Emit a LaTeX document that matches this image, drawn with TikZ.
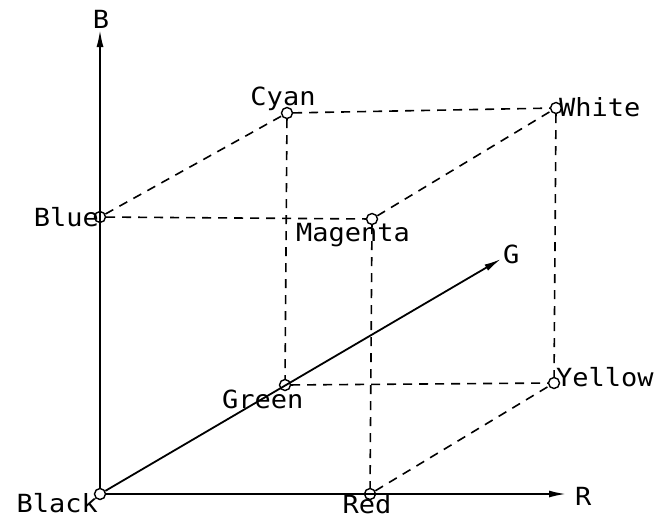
\documentclass[tikz,border=0pt]{standalone}
\usepackage{fontspec}
\setmainfont[FakeStretch=1.08]{DejaVu Sans Mono}
\usetikzlibrary{arrows.meta}
\begin{document}
\begin{tikzpicture}[x=1pt,y=-1pt,
  vert/.style={circle,draw,line width=1.4pt,minimum size=11pt,inner sep=0pt},
  lbl/.style={font=\fontsize{25}{25}\selectfont,inner sep=0pt},
  axis/.style={line width=1.8pt,-{Latex[length=17pt,width=7pt]}},
  edge/.style={line width=1.6pt,dash pattern=on 9pt off 7pt}]
\useasboundingbox (0,0) rectangle (655,520);
% vertices
\node[vert] (black) at (100,494) {};
\node[vert] (red) at (370,494) {};
\node[vert] (blue) at (100,217) {};
\node[vert] (magenta) at (372,219) {};
\node[vert] (green) at (285,385) {};
\node[vert] (cyan) at (287,113) {};
\node[vert] (yellow) at (554,383) {};
\node[vert] (white) at (556,108) {};
% axis ends
\coordinate (btip) at (100,30);
\coordinate (rtip) at (566,494);
\coordinate (gtip) at (501,259);
% axes
\draw[axis] (black) -- (btip);
\draw[axis] (black) -- (rtip);
\draw[axis] (black) -- (gtip);
% dashed cube edges
\draw[edge] (blue) -- (cyan);
\draw[edge] (blue) -- (magenta);
\draw[edge] (cyan) -- (white);
\draw[edge] (magenta) -- (white);
\draw[edge] (cyan) -- (green);
\draw[edge] (green) -- (yellow);
\draw[edge] (white) -- (yellow);
\draw[edge] (magenta) -- (red);
\draw[edge] (red) -- (yellow);
% labels
\node[lbl,anchor=base] (lB) at (101,28) {B};
\node[lbl,anchor=base west] (lR) at (575,505) {R};
\node[lbl,anchor=base west] (lG) at (503,263) {G};
\node[lbl,anchor=base east] (lblack) at (98,512) {Black};
\node[lbl,anchor=base] (lred) at (367,513) {Red};
\node[lbl,anchor=base east] (lblue) at (99,226) {Blue};
\node[lbl,anchor=base] (lcyan) at (283,105) {Cyan};
\node[lbl,anchor=base west] (lmagenta) at (296,241) {Magenta};
\node[lbl,anchor=base west] (lgreen) at (222,408) {Green};
\node[lbl,anchor=base west] (lyellow) at (556,386) {Yellow};
\node[lbl,anchor=base west] (lwhite) at (559,116) {White};
\end{tikzpicture}
\end{document}
